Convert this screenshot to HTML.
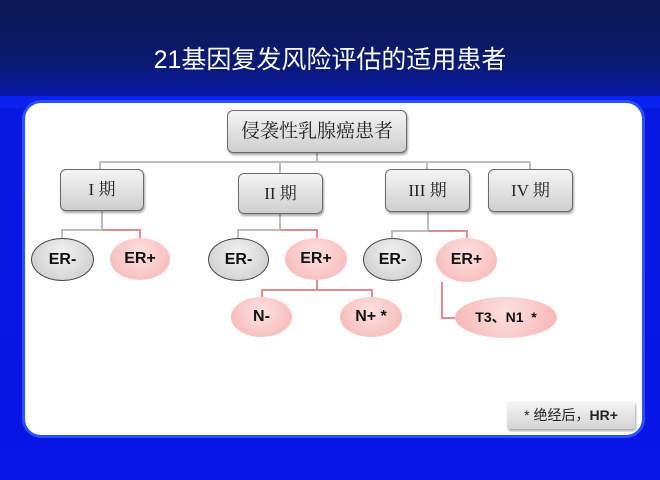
<!DOCTYPE html>
<html><head><meta charset="utf-8"><style>
body{margin:0;width:660px;height:480px;overflow:hidden;background:linear-gradient(#0b1a52 0%,#0a1a6e 60px,#0a18a8 95px,#0818e0 110px,#0816e6 100%);font-family:"Liberation Sans","Noto Sans CJK SC",sans-serif;position:relative}
.title{position:absolute;top:40px;left:0;width:660px;text-align:center;color:#fff;font-size:25px;font-family:"Liberation Sans","Noto Sans CJK SC",sans-serif}
.band{position:absolute;left:0;top:96px;width:660px;height:12px;background:#0a22ee}
.panel{position:absolute;left:25px;top:103px;width:617px;height:332px;background:#fff;border-radius:16px;box-shadow:0 0 0 3px #2a50ff}
.box{position:absolute;background:linear-gradient(#f4f4f4,#cfcfcf);border:1px solid #6a6a6a;border-radius:6px;box-shadow:1px 2px 2px rgba(0,0,0,.35);text-align:center;font-family:"Liberation Serif","Noto Serif CJK SC",serif;color:#222}
.el{position:absolute;border-radius:50%;text-align:center;font-weight:bold;font-size:16px;color:#111}
.g{background:radial-gradient(circle at 50% 35%,#f2f2f2,#c8c8c8);border:1px solid #444}
.p{background:radial-gradient(circle at 50% 35%,#fde0e0,#f6b3b3)}
svg{position:absolute;left:0;top:0}
</style></head><body>
<div class="title">21基因复发风险评估的适用患者</div>
<div class="band"></div>
<div class="panel"></div>
<svg width="660" height="480">
<g stroke="#bdbdbd" stroke-width="2" fill="none">
<path d="M317 152V162M100 162H530M100 162V169M280 162V173M427 162V169M530 162V169"/>
<path d="M102 210V230H62V238M280 213V230H238V238M428 211V231H392V238"/>
</g>
<g stroke="#e48a94" stroke-width="2" fill="none">
<path d="M102 230H140V238M280 230H317V238M428 231H467V238"/>
<path d="M317 280V290M262 290H372V297M262 290V297"/>
<path d="M442 282V318H455"/>
</g>
</svg>
<div class="box" style="left:227px;top:110px;width:178px;height:41px;line-height:41px;font-size:19px">侵袭性乳腺癌患者</div>
<div class="box" style="left:60px;top:169px;width:82px;height:40px;line-height:40px;font-size:17px">I 期</div>
<div class="box" style="left:238px;top:173px;width:83px;height:39px;line-height:39px;font-size:17px">II 期</div>
<div class="box" style="left:385px;top:169px;width:83px;height:41px;line-height:41px;font-size:17px">III 期</div>
<div class="box" style="left:488px;top:169px;width:83px;height:41px;line-height:41px;font-size:17px">IV 期</div>
<div class="el g" style="left:31px;top:238px;width:61px;height:41px;line-height:41px">ER-</div>
<div class="el p" style="left:110px;top:238px;width:60px;height:42px;line-height:42px">ER+</div>
<div class="el g" style="left:208px;top:238px;width:59px;height:41px;line-height:41px">ER-</div>
<div class="el p" style="left:285px;top:238px;width:62px;height:42px;line-height:42px">ER+</div>
<div class="el g" style="left:363px;top:238px;width:57px;height:41px;line-height:41px">ER-</div>
<div class="el p" style="left:436px;top:238px;width:61px;height:44px;line-height:44px">ER+</div>
<div class="el p" style="left:231px;top:297px;width:61px;height:40px;line-height:40px">N-</div>
<div class="el p" style="left:340px;top:297px;width:62px;height:40px;line-height:40px">N+ *</div>
<div class="el p" style="left:455px;top:297px;width:102px;height:41px;line-height:41px;font-size:14px">T3、N1 &nbsp;*</div>
<div class="box" style="left:507px;top:401px;width:128px;height:28px;line-height:28px;font-size:14px;border:none;border-radius:3px;background:linear-gradient(#f6f6f6,#d4d4d4);font-family:'Liberation Sans','Noto Sans CJK SC',sans-serif">* 绝经后，<b>HR+</b></div>
</body></html>
